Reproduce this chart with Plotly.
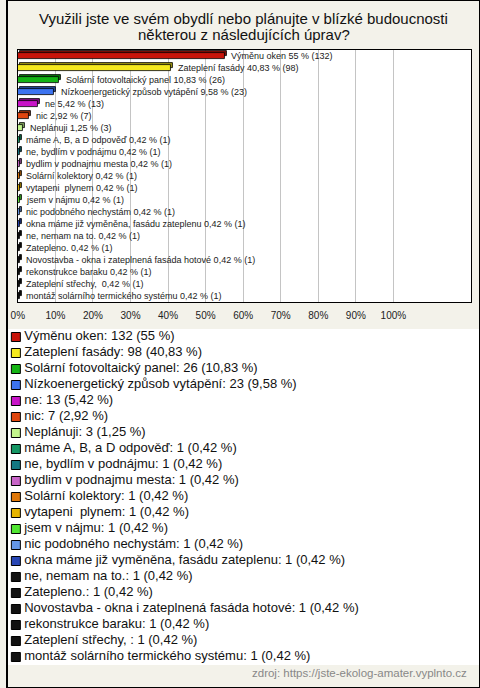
import plotly.graph_objects as go

# ---------------- data ----------------
categories = [
    "Výměnu oken", "Zateplení fasády", "Solární fotovoltaický panel",
    "Nízkoenergetický způsob vytápění", "ne", "nic", "Neplánuji",
    "máme A, B, a D odpověď", "ne, bydlím v podnájmu", "bydlim v podnajmu mesta",
    "Solární kolektory", "vytapeni  plynem", "jsem v nájmu", "nic podobného nechystám",
    "okna máme již vyměněna, fasádu zateplenu", "ne, nemam na to.", "Zatepleno.",
    "Novostavba - okna i zateplnená fasáda hotové", "rekonstrukce baraku",
    "Zateplení střechy, ", "montáž solárního termického systému",
]
counts = [132, 98, 26, 23, 13, 7, 3, 1, 1, 1, 1, 1, 1, 1, 1, 1, 1, 1, 1, 1, 1]
percents = [55, 40.83, 10.83, 9.58, 5.42, 2.92, 1.25, 0.42, 0.42, 0.42, 0.42,
            0.42, 0.42, 0.42, 0.42, 0.42, 0.42, 0.42, 0.42, 0.42, 0.42]
colors = [
    "#C8140A", "#F5E91E", "#14B414", "#3C73F0", "#C814C8", "#E0460F", "#C3F58C",
    "#149664", "#147882", "#C864C8", "#E0780A", "#E6B400", "#50E632", "#6496E6",
    "#2846B4", "#111111", "#111111", "#111111", "#111111", "#111111", "#111111",
]
tick_vals = [0, 10, 20, 30, 40, 50, 60, 70, 80, 90, 100]
tick_text = ["0%", "10%", "20%", "30%", "40%", "50%", "60%", "70%", "80%", "90%", "100%"]
title_lines = ["Využili jste ve svém obydlí nebo plánujte v blízké budoucnosti",
               "některou z následujících úprav?"]
source_text = "zdroj: https://jste-ekolog-amater.vyplnto.cz"

# ---------------- helpers ----------------
def fmt_pct(v):
    s = ("%d" % v) if float(v).is_integer() else ("%.2f" % v)
    return s.replace(".", ",")

def darker(hexcol, f=0.65):
    h = hexcol.lstrip("#")
    r, g, b = (int(h[i:i + 2], 16) for i in (0, 2, 4))
    return "rgb(%d,%d,%d)" % (r * f, g * f, b * f)

W, H = 480, 688
FONT = "Liberation Sans, Arial, sans-serif"
BG = "#F3F2EA"

fig = go.Figure()

# 3D-looking bars: back (depth) bar then front bar
fig.add_trace(go.Bar(
    y=categories, x=percents, base=0.55, orientation="h",
    width=0.42, offset=-0.38,
    marker=dict(color=[darker(c) for c in colors], line=dict(color="#000", width=0.8)),
    hoverinfo="skip", showlegend=False,
))
fig.add_trace(go.Bar(
    y=categories, x=percents, orientation="h",
    width=0.42, offset=-0.21,
    marker=dict(color=colors, line=dict(color="#000", width=0.8)),
    hoverinfo="skip", showlegend=False,
))

# legend (drawn as its own small scatter panel)
rows = list(range(len(categories)))
fig.add_trace(go.Scatter(
    x=[9] * len(rows), y=rows, mode="markers",
    marker=dict(symbol="square", size=9, color=colors, line=dict(color="#000", width=1)),
    xaxis="x2", yaxis="y2", hoverinfo="skip", showlegend=False, cliponaxis=False,
))
fig.add_trace(go.Scatter(
    x=[17.5] * len(rows), y=rows, mode="text",
    marker=dict(size=1),
    text=["%s: %d (%s %%)" % (c, n, fmt_pct(p)) for c, n, p in zip(categories, counts, percents)],
    textposition="middle right",
    textfont=dict(family=FONT, size=13, color="#111"),
    xaxis="x2", yaxis="y2", hoverinfo="skip", showlegend=False, cliponaxis=False,
))

annotations = []
for c, n, p in zip(categories, counts, percents):
    annotations.append(dict(
        x=p, y=c, xref="x", yref="y", xanchor="left", yanchor="middle",
        xshift=5, text="%s %s %% (%d)" % (c, fmt_pct(p), n), showarrow=False,
        font=dict(family=FONT, size=9, color="#222"),
    ))

annotations.append(dict(x=0.5, y=1 - 18 / H, xref="paper", yref="paper",
                        text=title_lines[0], showarrow=False, yanchor="middle",
                        font=dict(family=FONT, size=15, color="#111")))
annotations.append(dict(x=0.5, y=1 - 35 / H, xref="paper", yref="paper",
                        text=title_lines[1], showarrow=False, yanchor="middle",
                        font=dict(family=FONT, size=15, color="#111")))
annotations.append(dict(x=469 / W, y=1 - 673 / H, xref="paper", yref="paper",
                        xanchor="right", yanchor="middle", text=source_text, showarrow=False,
                        font=dict(family=FONT, size=11.5, color="#888")))

fig.update_layout(
    width=W, height=H,
    margin=dict(l=0, r=0, t=0, b=0),
    paper_bgcolor=BG, plot_bgcolor="white",
    barmode="overlay", bargap=0,
    font=dict(family=FONT, color="#111"),
    annotations=annotations,
    xaxis=dict(
        domain=[11 / W, 471 / W], range=[0, 120.7],
        tickvals=tick_vals, ticktext=tick_text, ticks="",
        ticklabelstandoff=4,
        tickfont=dict(family=FONT, size=10, color="#222"),
        showgrid=True, gridcolor="#C4C4C4", gridwidth=1, zeroline=False,
        showline=True, linecolor="#000", linewidth=1, mirror=True, fixedrange=True,
    ),
    yaxis=dict(
        domain=[(H - 302) / H, (H - 50) / H], range=[len(categories) - 0.5, -0.5],
        showticklabels=False, ticks="", showgrid=False, zeroline=False,
        showline=True, linecolor="#000", linewidth=1, mirror=True, fixedrange=True,
    ),
    xaxis2=dict(domain=[0, 1], range=[0, W], visible=False, fixedrange=True, anchor="y2"),
    yaxis2=dict(domain=[(H - 665) / H, (H - 329) / H], range=[len(categories) - 0.5, -0.5],
                visible=False, fixedrange=True, anchor="x2"),
    shapes=[dict(type="rect", xref="paper", yref="paper", x0=0, x1=1, y0=0, y1=1,
                 line=dict(color="#000", width=2), fillcolor="rgba(0,0,0,0)", layer="above")],
)

fig.write_html("out.html", config={"displayModeBar": False},
               post_script="document.body.style.margin='0';document.body.style.overflow='hidden';")
